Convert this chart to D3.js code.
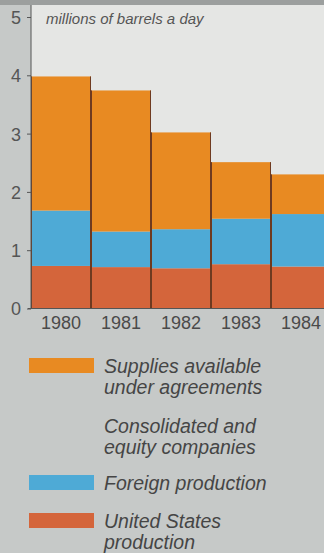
<!DOCTYPE html>
<html>
<head>
<meta charset="utf-8">
<script src="https://cdn.jsdelivr.net/npm/d3@7"></script>
<style>
  html, body { margin: 0; padding: 0; background: #c6c9c8; }
  svg { display: block; }
  text { font-family: "Liberation Sans", Arial, Helvetica, sans-serif; }
</style>
</head>
<body>
<svg id="chart" width="324" height="553"></svg>
<script>
// Oil supply, millions of barrels a day
const years = ["1980", "1981", "1982", "1983", "1984"];
const usProduction      = [0.73, 0.71, 0.69, 0.76, 0.72];
const foreignProduction = [0.95, 0.61, 0.67, 0.78, 0.90];
const supplies          = [2.30, 2.42, 1.66, 0.97, 0.68];
const yTicks = [0, 1, 2, 3, 4, 5];
const seriesKeys = ["us", "foreign", "supplies"];
const seriesColors = { us: "#d4653b", foreign: "#4eaad6", supplies: "#e88a22" };

const rows = years.map((yr, i) => ({
  year: yr, us: usProduction[i], foreign: foreignProduction[i], supplies: supplies[i]
}));

const svg = d3.select("#chart");
const W = 324;
const plotLeft = 31, plotTop = 5, plotBottom = 308.5;

// plot panel
svg.append("rect").attr("x", 0).attr("y", 0).attr("width", W).attr("height", 5).attr("fill", "#9c9f9e");
svg.append("rect").attr("x", plotLeft).attr("y", plotTop).attr("width", W - plotLeft)
  .attr("height", plotBottom - plotTop).attr("fill", "#e5e6e4");

const x = d3.scaleBand().domain(years).range([plotLeft, plotLeft + 300]).padding(0);
const y = d3.scaleLinear().domain([0, 5]).range([plotBottom, 17]);

const stack = d3.stack().keys(seriesKeys)(rows);

const g = svg.append("g");
stack.forEach(layer => {
  g.selectAll(null).data(layer).enter().append("rect")
    .attr("x", d => x(d.data.year))
    .attr("width", x.bandwidth())
    .attr("y", d => y(d[1]))
    .attr("height", d => y(d[0]) - y(d[1]))
    .attr("fill", seriesColors[layer.key]);
});

// dark dividers between bars
const total = d => d.us + d.foreign + d.supplies;
g.selectAll(null).data(rows).enter().append("line")
  .attr("x1", d => x(d.year) + 0.5).attr("x2", d => x(d.year) + 0.5)
  .attr("y1", d => y(total(d))).attr("y2", plotBottom)
  .attr("stroke", "#6e3a20").attr("stroke-width", 1);
g.selectAll(null).data(rows.slice(0, -1)).enter().append("line")
  .attr("x1", d => x(d.year) + x.bandwidth() - 0.5).attr("x2", d => x(d.year) + x.bandwidth() - 0.5)
  .attr("y1", d => y(total(d))).attr("y2", plotBottom)
  .attr("stroke", "#6e3a20").attr("stroke-width", 1);

// y axis
const yAxis = d3.axisLeft(y).tickValues(yTicks).tickFormat(d3.format("d")).tickSize(4).tickPadding(6);
const ya = svg.append("g").attr("transform", `translate(${plotLeft},0)`).call(yAxis);
ya.select(".domain").remove();
ya.selectAll(".tick line").attr("stroke", "#555");
ya.selectAll(".tick text").attr("fill", "#555").attr("font-size", 18).attr("dy", "0.36em");
svg.append("line").attr("x1", plotLeft).attr("x2", plotLeft).attr("y1", plotTop).attr("y2", plotBottom)
  .attr("stroke", "#555").attr("stroke-width", 1);

// x axis
const xAxis = d3.axisBottom(x).tickSize(0).tickPadding(8);
const xa = svg.append("g").attr("transform", `translate(0,${plotBottom})`).call(xAxis);
xa.select(".domain").remove();
xa.selectAll(".tick text").attr("fill", "#4a4a4a").attr("font-size", 18);
svg.append("line").attr("x1", plotLeft - 3).attr("x2", W).attr("y1", plotBottom).attr("y2", plotBottom)
  .attr("stroke", "#555").attr("stroke-width", 1);

// unit label
svg.append("text").attr("x", 46).attr("y", 24)
  .attr("font-size", 15).attr("font-style", "italic").attr("fill", "#555")
  .text("millions of barrels a day");

// legend
const legend = [
  { color: seriesColors.supplies, lines: ["Supplies available", "under agreements"], y: 373 },
  { color: null, lines: ["Consolidated and", "equity companies"], y: 433 },
  { color: seriesColors.foreign, lines: ["Foreign production"], y: 490 },
  { color: seriesColors.us, lines: ["United States", "production"], y: 528 }
];
const lg = svg.append("g");
legend.forEach(item => {
  if (item.color) {
    lg.append("rect").attr("x", 29).attr("y", item.y - 15).attr("width", 65).attr("height", 15)
      .attr("fill", item.color);
  }
  item.lines.forEach((t, i) => {
    lg.append("text").attr("x", 104).attr("y", item.y + i * 20.5)
      .attr("font-size", 19.5).attr("font-style", "italic").attr("fill", "#454545")
      .text(t);
  });
});
</script>
</body>
</html>
